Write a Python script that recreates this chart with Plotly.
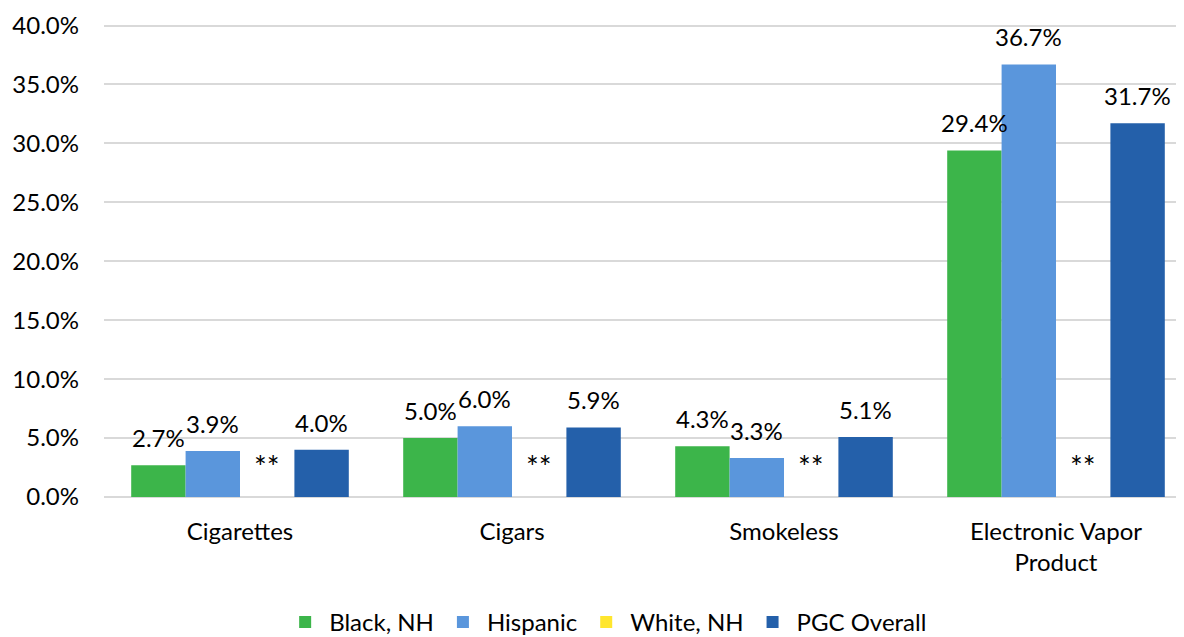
import plotly.graph_objects as go

products = ["Cigarettes", "Cigars", "Smokeless", "Electronic Vapor<br>Product"]
black_nh = [2.7, 5.0, 4.3, 29.4]
hispanic = [3.9, 6.0, 3.3, 36.7]
white_nh = [None, None, None, None]
white_labels = ["**", "**", "**", "**"]
pgc_overall = [4.0, 5.9, 5.1, 31.7]
y_ticks = [0, 5, 10, 15, 20, 25, 30, 35, 40]

FONT = "Lato"
FS = 24
series = [
    ("Black, NH", black_nh, "#3CB54A"),
    ("Hispanic", hispanic, "#5A96DC"),
    ("White, NH", white_nh, "#FFE62E"),
    ("PGC Overall", pgc_overall, "#2460AA"),
]
offsets = [-0.3, -0.1, 0.1, 0.3]  # bar centres inside each group

fig = go.Figure()
for (name, vals, color), off in zip(series, offsets):
    fig.add_trace(go.Bar(
        name=name, x=products, y=vals,
        marker=dict(color=color, line=dict(width=0)),
    ))
    # data labels sit a bit above the bar like Excel's
    for i, v in enumerate(vals):
        if v is None:
            continue
        fig.add_annotation(x=i + off, y=v, xref="x", yref="y", text=f"{v:.1f}%",
                           showarrow=False, yanchor="bottom", yshift=11,
                           font=dict(size=FS, color="#000000", family=FONT))

# "**" marks for suppressed White, NH estimates (third bar of each group)
for i, lab in enumerate(white_labels):
    fig.add_annotation(x=i + offsets[2], y=2.6, xref="x", yref="y", text=lab,
                       showarrow=False, font=dict(size=30, color="#000000", family=FONT))

fig.update_layout(
    width=1184, height=637,
    margin=dict(l=96, r=0, t=14, b=147),
    paper_bgcolor="white", plot_bgcolor="white",
    barmode="group", bargap=0.2, bargroupgap=0,
    font=dict(family=FONT, size=FS, color="#000000"),
    legend=dict(orientation="h", x=0.462, xanchor="center", y=-0.265, yanchor="middle",
                font=dict(size=FS, family=FONT), itemwidth=38, traceorder="normal"),
    showlegend=True,
)
fig.update_xaxes(showgrid=False, showline=False, ticks="", tickfont=dict(size=FS),
                 ticklabelstandoff=18, automargin=False)
fig.update_yaxes(range=[0, 40.3], tickmode="array", tickvals=y_ticks,
                 ticktext=[f"{t:.1f}%" for t in y_ticks], ticklabeloverflow="allow",
                 showgrid=True, gridcolor="#D9D9D9", gridwidth=1.5,
                 zeroline=True, zerolinecolor="#D9D9D9", zerolinewidth=1.5,
                 showline=False, ticklabelstandoff=24, tickfont=dict(size=FS),
                 automargin=False)

fig.write_html("out.html")
